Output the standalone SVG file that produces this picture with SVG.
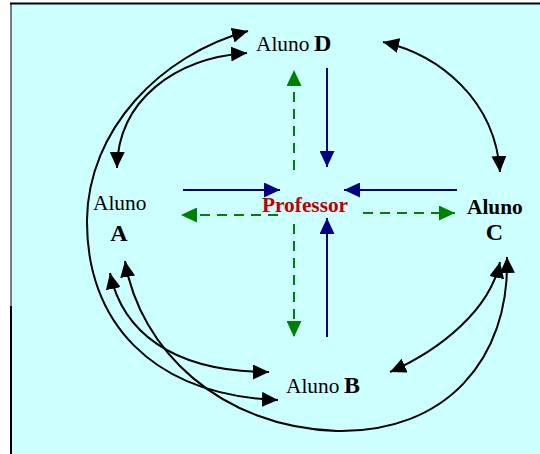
<svg xmlns="http://www.w3.org/2000/svg" width="540" height="454" viewBox="0 0 540 454">
<style>
.lbl{font-family:"Liberation Serif","Times New Roman",serif;fill:#000}
.n{font-size:21.33px}
.b{font-size:24px;font-weight:bold}
.nb{font-size:21.33px;font-weight:bold}
.prof{font-family:"Liberation Serif","Times New Roman",serif;font-size:21.33px;font-weight:bold;fill:#C00000}
.blk{fill:none;stroke:#000;stroke-width:2;marker-start:url(#ab);marker-end:url(#ab)}
.blue{fill:none;stroke:#000080;stroke-width:2;marker-end:url(#au)}
.green{fill:none;stroke:#008000;stroke-width:2;stroke-dasharray:10 7;marker-end:url(#ag)}
</style>
<defs>
<marker id="ab" markerUnits="userSpaceOnUse" markerWidth="17" markerHeight="15" refX="16" refY="7.5" orient="auto-start-reverse" viewBox="0 0 17 15">
<path d="M0,0 L16,7.5 L0,15 z" fill="#000"/>
</marker>
<marker id="au" markerUnits="userSpaceOnUse" markerWidth="17" markerHeight="15" refX="16" refY="7.5" orient="auto" viewBox="0 0 17 15">
<path d="M0,0 L16,7.5 L0,15 z" fill="#000080"/>
</marker>
<marker id="ag" markerUnits="userSpaceOnUse" markerWidth="17" markerHeight="15" refX="16" refY="7.5" orient="auto" viewBox="0 0 17 15">
<path d="M0,0 L16,7.5 L0,15 z" fill="#008000" stroke="none"/>
</marker>
</defs>
<rect x="11" y="3" width="529" height="451" fill="#CCFFFF"/>
<line x1="10" y1="3.5" x2="540" y2="3.5" stroke="#000" stroke-width="2"/>
<line x1="11" y1="3" x2="11" y2="306" stroke="#000" stroke-width="1"/>
<line x1="11" y1="306" x2="11" y2="454" stroke="#000" stroke-width="2"/>
<g id="connectors">
<path class="blk" d="M117,168 C118,100 175,58 247,53"/>
<path class="blk" d="M248,31 C160,55 88,130 87,220 C86,320 150,395 278,400"/>
<path class="blk" d="M110,273 C122,330 170,372 269,372"/>
<path class="blk" d="M125,261 C140,350 220,427 337,431 C445,433 510,360 507,257"/>
<path class="blk" d="M390,372 C440,350 490,310 500,262"/>
<path class="blk" d="M383,42 C440,55 495,100 500,172"/>
<path class="blue" d="M327,68 L327,167"/>
<path class="blue" d="M183,190 L280,190"/>
<path class="blue" d="M457,190 L344,190"/>
<path class="blue" d="M327,337 L327,218"/>
<path class="green" d="M294,170 L294,70"/>
<path class="green" d="M294,224 L294,337"/>
<path class="green" d="M278,215 L181,215"/>
<path class="green" d="M363,213 L455,213"/>
</g>
<g id="alunoD"><text class="lbl n" x="256" y="51">Aluno</text><text class="lbl b" x="314" y="51">D</text></g>
<g id="alunoA"><text class="lbl n" x="93" y="210">Aluno</text><text class="lbl b" x="119" y="241" text-anchor="middle">A</text></g>
<g id="professor"><text class="prof" x="262" y="212">Professor</text></g>
<g id="alunoC"><text class="lbl nb" x="467" y="214">Aluno</text><text class="lbl b" x="494.5" y="240" text-anchor="middle">C</text></g>
<g id="alunoB"><text class="lbl n" x="286" y="393">Aluno</text><text class="lbl b" x="344" y="393">B</text></g>
</svg>
